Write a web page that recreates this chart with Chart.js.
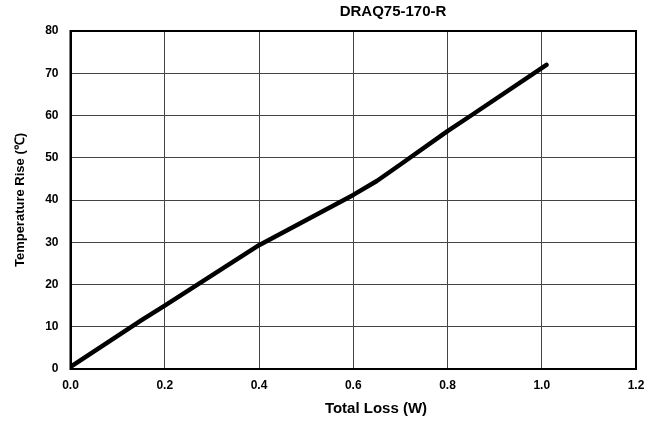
<!DOCTYPE html>
<html lang="en">
<head>
    <meta charset="UTF-8">
    <title>DRAQ75-170-R</title>
    <style>
        html, body { margin: 0; padding: 0; background: #fff; }
        #wrap { width: 660px; height: 424px; }
    </style>
</head>
<body>
    <div id="wrap"><canvas id="riseChart"></canvas></div>

    <script src="https://cdn.jsdelivr.net/npm/chart.js"></script>
    <script>
        // values
        const lossW = [0, 0.15, 0.2, 0.4, 0.6, 0.65, 0.7, 0.8, 0.85, 1.01];
        const tempRise = [0.5, 11.5, 15, 29.3, 41.2, 44.5, 48.4, 56.3, 60, 72];

        const chartTitle = 'DRAQ75-170-R';
        const xTitle = 'Total Loss (W)';
        const yTitle = 'Temperature Rise (℃)';

        const boldFont = size => ({ family: 'Liberation Sans, Arial, sans-serif', size: size, weight: 'bold' });

        // frame around the plot and the free-standing titles
        const framePlugin = {
            id: 'frame',
            afterDraw(chart) {
                const ctx = chart.ctx;
                const a = chart.chartArea;
                ctx.save();
                ctx.strokeStyle = '#000';
                ctx.lineWidth = 2;
                ctx.strokeRect(a.left, a.top, a.right - a.left, a.bottom - a.top);

                ctx.fillStyle = '#000';
                ctx.textAlign = 'center';
                ctx.textBaseline = 'middle';
                ctx.font = 'bold 15px "Liberation Sans", Arial, sans-serif';
                ctx.fillText(chartTitle, 393, 12);
                ctx.fillText(xTitle, 376, 409);
                ctx.restore();
            }
        };

        new Chart(document.getElementById('riseChart'), {
            type: 'line',
            data: {
                datasets: [{
                    data: lossW.map((x, i) => ({ x: x, y: tempRise[i] })),
                    borderColor: '#000',
                    borderWidth: 4.5,
                    borderCapStyle: 'round',
                    borderJoinStyle: 'round',
                    pointRadius: 0,
                    tension: 0,
                    fill: false
                }]
            },
            options: {
                responsive: true,
                maintainAspectRatio: false,
                animation: false,
                layout: { padding: { top: 31, right: 24, left: 0, bottom: 0 } },
                plugins: {
                    legend: { display: false },
                    tooltip: { enabled: false }
                },
                scales: {
                    x: {
                        type: 'linear',
                        min: 0,
                        max: 1.2,
                        afterFit: s => { s.height = 55; },
                        grid: { color: '#444', lineWidth: 1, drawTicks: false },
                        border: { color: '#000', width: 2 },
                        ticks: {
                            stepSize: 0.2,
                            padding: 9,
                            color: '#000',
                            font: boldFont(12),
                            maxRotation: 0,
                            callback: v => v.toFixed(1)
                        }
                    },
                    y: {
                        min: 0,
                        max: 80,
                        afterFit: s => { s.width = 70.5; },
                        grid: { color: '#444', lineWidth: 1, drawTicks: false },
                        border: { color: '#000', width: 2 },
                        ticks: {
                            stepSize: 10,
                            padding: 12,
                            color: '#000',
                            font: boldFont(12)
                        },
                        title: {
                            display: true,
                            text: yTitle,
                            color: '#000',
                            font: boldFont(13),
                            padding: { top: 13, bottom: 0 }
                        }
                    }
                }
            },
            plugins: [framePlugin]
        });
    </script>
</body>
</html>
